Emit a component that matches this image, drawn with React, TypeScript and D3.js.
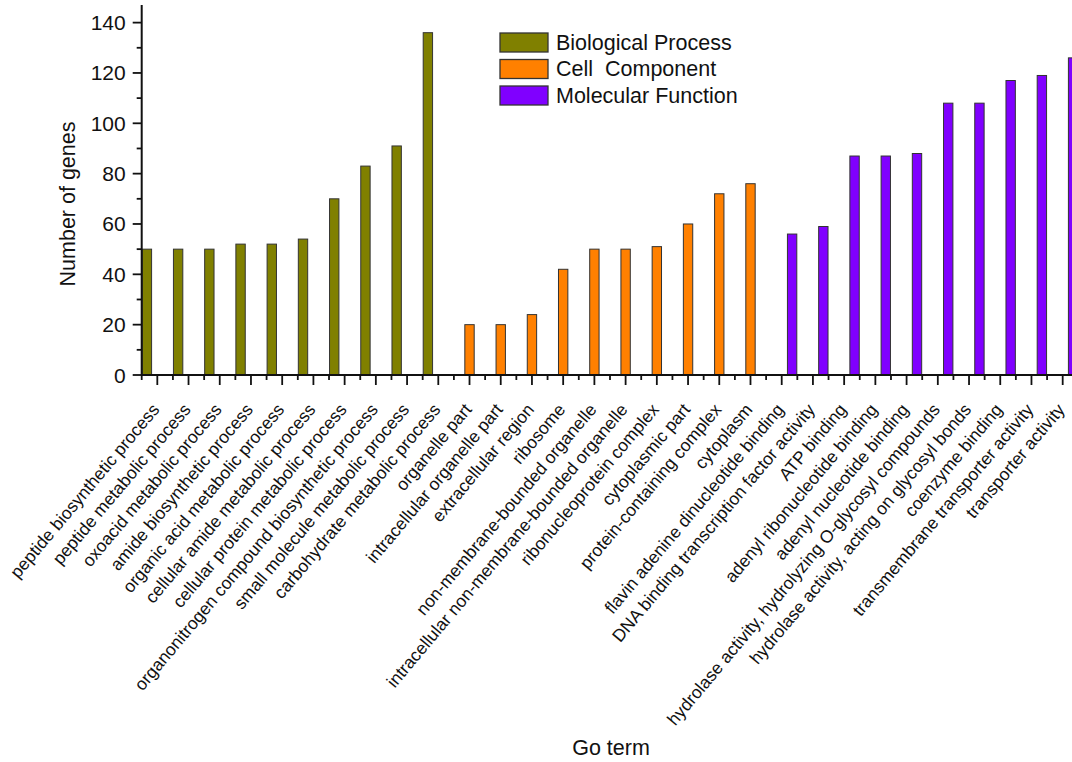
import React from "react";
import * as d3 from "d3";

const bpTerms = [
  "peptide biosynthetic process",
  "peptide metabolic process",
  "oxoacid metabolic process",
  "amide biosynthetic process",
  "organic acid metabolic process",
  "cellular amide metabolic process",
  "cellular protein metabolic process",
  "organonitrogen compound biosynthetic process",
  "small molecule metabolic process",
  "carbohydrate metabolic process",
];
const bpValues = [50, 50, 50, 52, 52, 54, 70, 83, 91, 136];

const ccTerms = [
  "organelle part",
  "intracellular organelle part",
  "extracellular region",
  "ribosome",
  "non-membrane-bounded organelle",
  "intracellular non-membrane-bounded organelle",
  "ribonucleoprotein complex",
  "cytoplasmic part",
  "protein-containing complex",
  "cytoplasm",
];
const ccValues = [20, 20, 24, 42, 50, 50, 51, 60, 72, 76];

const mfTerms = [
  "flavin adenine dinucleotide binding",
  "DNA binding transcription factor activity",
  "ATP binding",
  "adenyl ribonucleotide binding",
  "adenyl nucleotide binding",
  "hydrolase activity, hydrolyzing O-glycosyl compounds",
  "hydrolase activity, acting on glycosyl bonds",
  "coenzyme binding",
  "transmembrane transporter activity",
  "transporter activity",
];
const mfValues = [56, 59, 87, 87, 88, 108, 108, 117, 119, 126];

const seriesNames = ["Biological Process", "Cell  Component", "Molecular Function"];
const seriesColors = ["#808000", "#FF8000", "#8000FF"];
const yTicks = [0, 20, 40, 60, 80, 100, 120, 140];
const yMinorTicks = [10, 30, 50, 70, 90, 110, 130];

const FONT = "'Liberation Sans', Arial, sans-serif";

export default function App() {
  const W = 1072;
  const H = 762;
  const x0 = 141.7;
  const step = 31.22;
  const yBase = 375;

  const rows = [
    ...bpTerms.map((t, i) => ({ term: t, value: bpValues[i], s: 0 })),
    ...ccTerms.map((t, i) => ({ term: t, value: ccValues[i], s: 1 })),
    ...mfTerms.map((t, i) => ({ term: t, value: mfValues[i], s: 2 })),
  ];

  const x = d3
    .scaleBand<string>()
    .domain(rows.map((r) => r.term))
    .range([x0, x0 + step * rows.length])
    .paddingInner(0)
    .paddingOuter(0);
  const inner = d3
    .scaleBand<number>()
    .domain([0, 1, 2])
    .range([0, x.bandwidth()])
    .paddingInner(0.1)
    .paddingOuter(0.05);
  const y = d3.scaleLinear().domain([0, 147]).range([yBase, 5]);

  const xEnd = x0 + step * rows.length;
  const boundaries = d3.range(rows.length + 1).map((i) => x0 + i * step);

  return (
    <svg
      width={W}
      height={H}
      style={{ position: "absolute", left: 0, top: 0, background: "#fff" }}
      fontFamily={FONT}
    >
      <rect x={0} y={0} width={W} height={H} fill="#fff" />
      {/* bars */}
      {rows.map((r, i) => (
        <rect
          key={"b" + i}
          x={(x(r.term) as number) + (inner(r.s) as number)}
          y={y(r.value)}
          width={inner.bandwidth()}
          height={yBase - y(r.value)}
          fill={seriesColors[r.s]}
          stroke="#333"
          strokeWidth={1}
        />
      ))}
      {/* y axis */}
      <line x1={x0} x2={x0} y1={y(147)} y2={yBase} stroke="#111" strokeWidth={2} />
      {yTicks.map((t) => (
        <g key={"yt" + t}>
          <line x1={x0 - 9} x2={x0} y1={y(t)} y2={y(t)} stroke="#111" strokeWidth={1.8} />
          <text
            x={x0 - 16}
            y={y(t)}
            textAnchor="end"
            dominantBaseline="central"
            fontSize={21}
            fill="#111"
          >
            {t}
          </text>
        </g>
      ))}
      {yMinorTicks.map((t) => (
        <line key={"ym" + t} x1={x0 - 5} x2={x0} y1={y(t)} y2={y(t)} stroke="#111" strokeWidth={1.8} />
      ))}
      {/* x axis */}
      <line x1={x0} x2={xEnd} y1={yBase} y2={yBase} stroke="#111" strokeWidth={2} />
      {boundaries.map((b, i) => (
        <line key={"xm" + i} x1={b} x2={b} y1={yBase} y2={yBase + 5} stroke="#111" strokeWidth={1.8} />
      ))}
      {rows.map((r, i) => {
        const cx = (x(r.term) as number) + x.bandwidth() / 2;
        return (
          <g key={"xt" + i}>
            <line x1={cx} x2={cx} y1={yBase} y2={yBase + 10} stroke="#111" strokeWidth={1.8} />
            <text
              transform={`translate(${cx + 3},${yBase + 35}) rotate(-50)`}
              textAnchor="end"
              fontSize={17.5}
              fill="#111"
            >
              {r.term}
            </text>
          </g>
        );
      })}
      {/* axis titles */}
      <text
        transform={`translate(75,204) rotate(-90)`}
        textAnchor="middle"
        fontSize={21.5}
        fill="#111"
      >
        Number of genes
      </text>
      <text x={611} y={755} textAnchor="middle" fontSize={21.5} fill="#111">
        Go term
      </text>
      {/* legend */}
      {seriesNames.map((n, i) => (
        <g key={"lg" + i} transform={`translate(500,${33 + i * 26.5})`}>
          <rect x={0} y={0} width={48} height={19} fill={seriesColors[i]} stroke="#333" strokeWidth={1.3} />
          <text
            x={56}
            y={9.5}
            dominantBaseline="central"
            fontSize={21.5}
            fill="#111"
            style={{ whiteSpace: "pre" }}
          >
            {n}
          </text>
        </g>
      ))}
    </svg>
  );
}
